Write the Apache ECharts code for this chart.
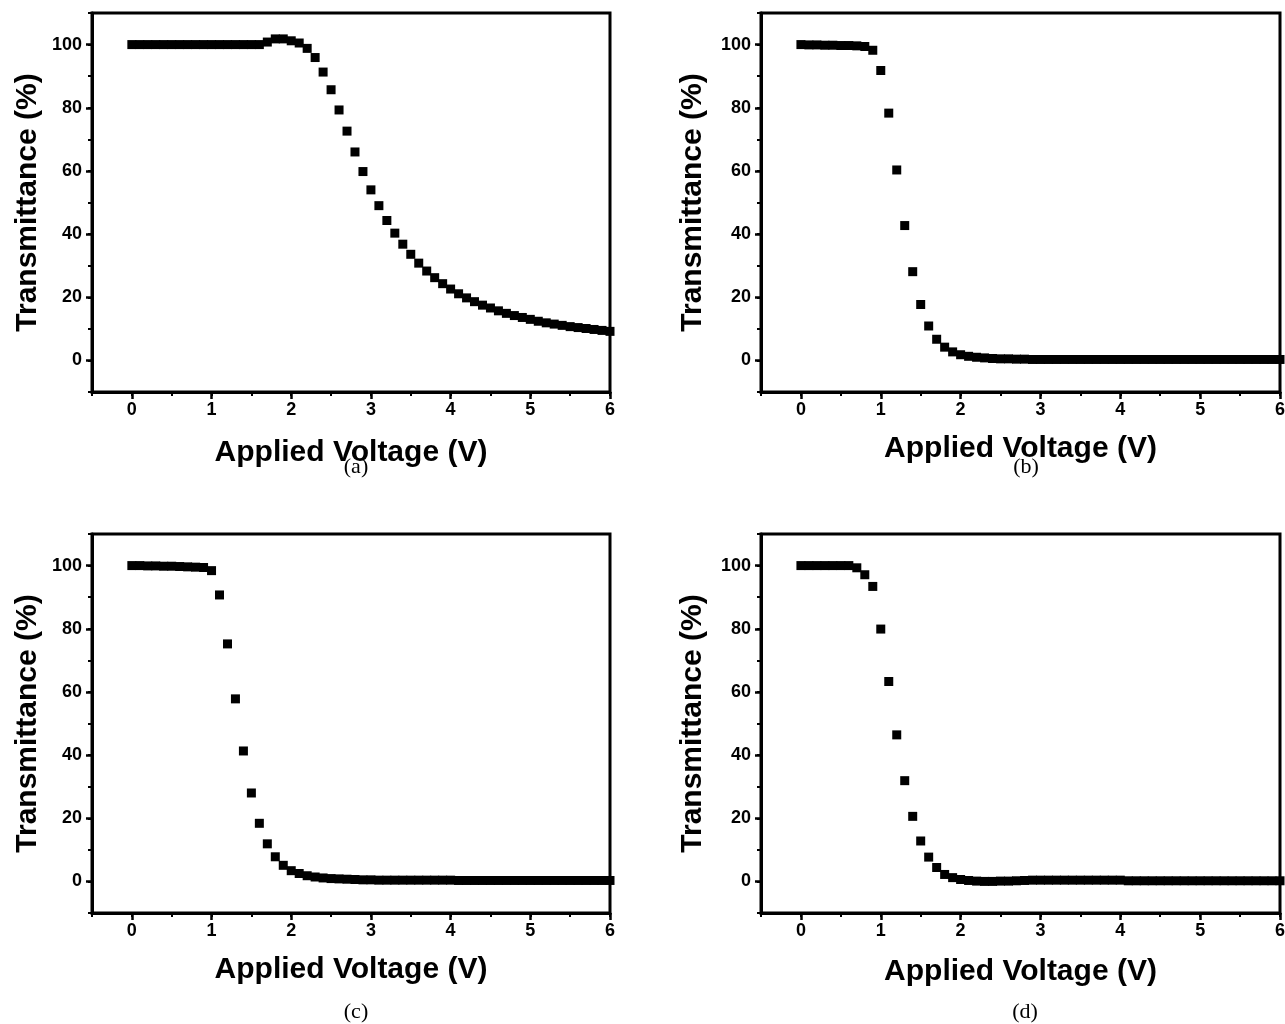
<!DOCTYPE html>
<html>
<head>
<meta charset="utf-8">
<script src="https://cdn.jsdelivr.net/npm/echarts@6/dist/echarts.min.js"></script>
<style>
html, body { margin: 0; padding: 0; background: #fff; }
#chart { width: 1285px; height: 1024px; }
</style>
</head>
<body>
<div id="chart"></div>
<script>
var voltage = [0.0, 0.1, 0.2, 0.3, 0.4, 0.5, 0.6, 0.7, 0.8, 0.9,
    1.0, 1.1, 1.2, 1.3, 1.4, 1.5, 1.6, 1.7, 1.8, 1.9,
    2.0, 2.1, 2.2, 2.3, 2.4, 2.5, 2.6, 2.7, 2.8, 2.9,
    3.0, 3.1, 3.2, 3.3, 3.4, 3.5, 3.6, 3.7, 3.8, 3.9,
    4.0, 4.1, 4.2, 4.3, 4.4, 4.5, 4.6, 4.7, 4.8, 4.9,
    5.0, 5.1, 5.2, 5.3, 5.4, 5.5, 5.6, 5.7, 5.8, 5.9, 6.0];

var transA = [100, 100, 100, 100, 100, 100, 100, 100, 100, 100,
    100, 100, 100, 100, 100, 100, 100, 100.8, 101.8, 101.8,
    101.2, 100.5, 98.8, 95.9, 91.3, 85.7, 79.3, 72.6, 66.0, 59.8,
    54.0, 49.0, 44.3, 40.3, 36.8, 33.6, 30.8, 28.3, 26.2, 24.3,
    22.6, 21.1, 19.8, 18.6, 17.5, 16.6, 15.7, 14.9, 14.2, 13.6,
    13.0, 12.4, 11.9, 11.5, 11.1, 10.7, 10.4, 10.1, 9.8, 9.5, 9.2];

var transB = [100, 99.9, 99.9, 99.8, 99.8, 99.7, 99.7, 99.6, 99.4, 98.2,
    91.8, 78.3, 60.3, 42.7, 28.1, 17.7, 10.9, 6.7, 4.2, 2.7,
    1.8, 1.3, 1.0, 0.8, 0.6, 0.5, 0.5, 0.4, 0.4, 0.3,
    0.3, 0.3, 0.3, 0.3, 0.3, 0.3, 0.3, 0.3, 0.3, 0.3,
    0.3, 0.3, 0.3, 0.3, 0.3, 0.3, 0.3, 0.3, 0.3, 0.3,
    0.3, 0.3, 0.3, 0.3, 0.3, 0.3, 0.3, 0.3, 0.3, 0.3, 0.3];

var transC = [100, 100, 99.9, 99.9, 99.8, 99.8, 99.7, 99.6, 99.5, 99.4,
    98.4, 90.7, 75.2, 57.8, 41.3, 28.0, 18.4, 11.9, 7.8, 5.1,
    3.4, 2.5, 1.8, 1.4, 1.1, 0.9, 0.8, 0.7, 0.6, 0.5,
    0.5, 0.4, 0.4, 0.4, 0.4, 0.4, 0.4, 0.4, 0.4, 0.4,
    0.4, 0.3, 0.3, 0.3, 0.3, 0.3, 0.3, 0.3, 0.3, 0.3,
    0.3, 0.3, 0.3, 0.3, 0.3, 0.3, 0.3, 0.3, 0.3, 0.3, 0.3];

var transD = [100, 100, 100, 100, 100, 100, 100, 99.3, 97.1, 93.4,
    79.9, 63.3, 46.4, 31.9, 20.6, 12.8, 7.7, 4.4, 2.2, 1.2,
    0.6, 0.3, 0.1, 0.0, 0.0, 0.1, 0.1, 0.2, 0.3, 0.4,
    0.4, 0.4, 0.4, 0.4, 0.4, 0.4, 0.4, 0.4, 0.4, 0.4,
    0.4, 0.2, 0.2, 0.2, 0.2, 0.2, 0.2, 0.2, 0.2, 0.2,
    0.2, 0.2, 0.2, 0.2, 0.2, 0.2, 0.2, 0.2, 0.2, 0.2, 0.2];

var xMajor = [0, 1, 2, 3, 4, 5, 6];
var yMajor = [0, 20, 40, 60, 80, 100];
var captions = ['(a)', '(b)', '(c)', '(d)'];

var sans = 'Liberation Sans, Arial, Helvetica, sans-serif';
var serif = 'Liberation Serif, Times New Roman, serif';

// one entry per panel: grid box, gaps of the axis names, caption centre
var panels = [
    { data: transA, left: 92, top: 13, width: 518, xGap: 46, yGap: 49, capX: 351, capY: 451 },
    { data: transB, left: 761, top: 13, width: 519, xGap: 42, yGap: 53, capX: 1021, capY: 451 },
    { data: transC, left: 92, top: 534, width: 518, xGap: 42, yGap: 49, capX: 351, capY: 996 },
    { data: transD, left: 761, top: 534, width: 519, xGap: 44, yGap: 53, capX: 1020, capY: 996 }
];

var grids = [], xAxes = [], yAxes = [], series = [], titles = [];

panels.forEach(function (p, i) {
    grids.push({
        left: p.left, top: p.top, width: p.width, height: 379,
        outerBoundsMode: 'none', containLabel: false,
        show: true, borderColor: '#000', borderWidth: 3, backgroundColor: 'transparent'
    });

    // minor ticks + axis line
    xAxes.push({
        type: 'value', gridIndex: i, position: 'bottom', min: -0.5, max: 6, interval: 0.5,
        axisLine: { show: true, onZero: false, lineStyle: { color: '#000', width: 3 } },
        axisTick: { show: true, length: 4, lineStyle: { color: '#000', width: 2 } },
        axisLabel: { show: false },
        splitLine: { show: false }
    });
    // major ticks, labels and name
    xAxes.push({
        type: 'value', gridIndex: i, position: 'bottom', min: -0.5, max: 6,
        name: 'Applied Voltage (V)', nameLocation: 'middle', nameGap: p.xGap,
        nameTextStyle: { fontFamily: sans, fontWeight: 'bold', fontSize: 30, color: '#000' },
        axisLine: { show: false, onZero: false },
        axisTick: { show: true, customValues: xMajor, length: 7, lineStyle: { color: '#000', width: 2.5 } },
        axisLabel: { customValues: xMajor, margin: 9, fontFamily: sans, fontWeight: 'bold', fontSize: 18, color: '#000' },
        splitLine: { show: false }
    });

    yAxes.push({
        type: 'value', gridIndex: i, position: 'left', min: -10, max: 110, interval: 10,
        axisLine: { show: true, onZero: false, lineStyle: { color: '#000', width: 3 } },
        axisTick: { show: true, length: 4, lineStyle: { color: '#000', width: 2 } },
        axisLabel: { show: false },
        splitLine: { show: false }
    });
    yAxes.push({
        type: 'value', gridIndex: i, position: 'left', min: -10, max: 110,
        name: 'Transmittance (%)', nameLocation: 'middle', nameGap: p.yGap,
        nameTextStyle: { fontFamily: sans, fontWeight: 'bold', fontSize: 30, color: '#000' },
        axisLine: { show: false, onZero: false },
        axisTick: { show: true, customValues: yMajor, length: 6, lineStyle: { color: '#000', width: 2.5 } },
        axisLabel: { customValues: yMajor, margin: 10, fontFamily: sans, fontWeight: 'bold', fontSize: 18, color: '#000' },
        splitLine: { show: false }
    });

    series.push({
        type: 'scatter',
        xAxisIndex: 2 * i + 1,
        yAxisIndex: 2 * i + 1,
        symbol: 'rect',
        symbolSize: 9,
        itemStyle: { color: '#000', opacity: 1 },
        data: voltage.map(function (v, k) { return [v, p.data[k]]; })
    });

    titles.push({
        text: captions[i], left: p.capX, top: p.capY, textAlign: 'center',
        textStyle: { fontFamily: serif, fontWeight: 'normal', fontSize: 22, color: '#000' }
    });
});

var myChart = echarts.init(document.getElementById('chart'));
myChart.setOption({
    animation: false,
    backgroundColor: '#fff',
    title: titles,
    grid: grids,
    xAxis: xAxes,
    yAxis: yAxes,
    series: series
});
</script>
</body>
</html>
